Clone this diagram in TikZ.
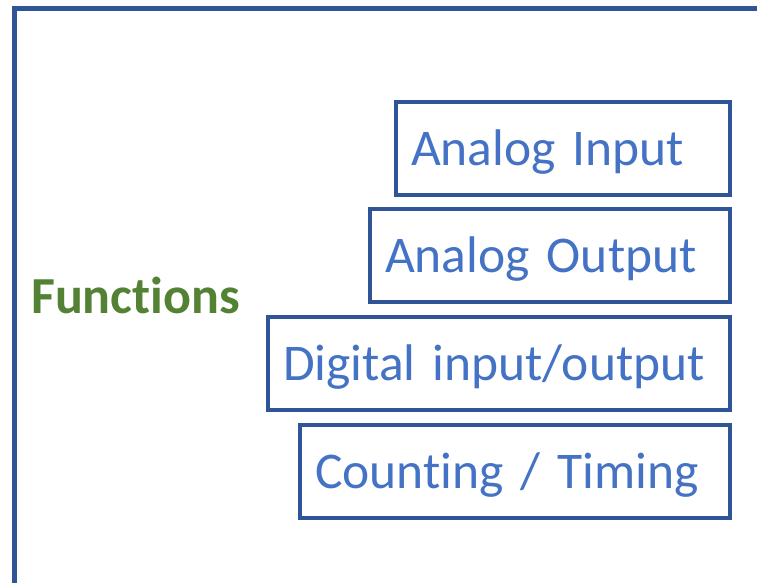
\documentclass[tikz,border=0pt]{standalone}
\usepackage{fontspec}
\setmainfont{Carlito}[Ligatures=NoCommon]
\definecolor{frameblue}{HTML}{2F5597}
\definecolor{textblue}{HTML}{4472C4}
\definecolor{fgreen}{HTML}{548235}
\tikzset{
  fbox/.style={draw=frameblue, line width=4pt, text=textblue, font=\fontsize{51.5}{60}\selectfont,
    align=left, inner xsep=15pt, inner ysep=0pt, text height=33pt, text depth=0pt,
    minimum height=93pt, anchor=center},
  ftitle/.style={text=fgreen, font=\fontsize{52}{60}\selectfont\bfseries, anchor=base west, inner sep=0pt}
}
\begin{document}
\begin{tikzpicture}[x=1pt,y=-1pt]
\useasboundingbox (0,0) rectangle (757,582);
\clip (0,0) rectangle (757,582);
\draw[frameblue, line width=5pt] (14.5,700) |- (800,8.5);
\node[fbox, text width=304pt] (ai) at (563,148.5) {Analog Input};
\node[fbox, text width=330pt] (ao) at (550,255.5) {Analog Output};
\node[fbox, text width=432pt] (dio) at (499,363.5) {Digital input/output};
\node[fbox, text width=400pt] (ct) at (515,471.5) {Counting / Timing};
\node[ftitle] (fn) at (31,313) {Functions};
\end{tikzpicture}
\end{document}
